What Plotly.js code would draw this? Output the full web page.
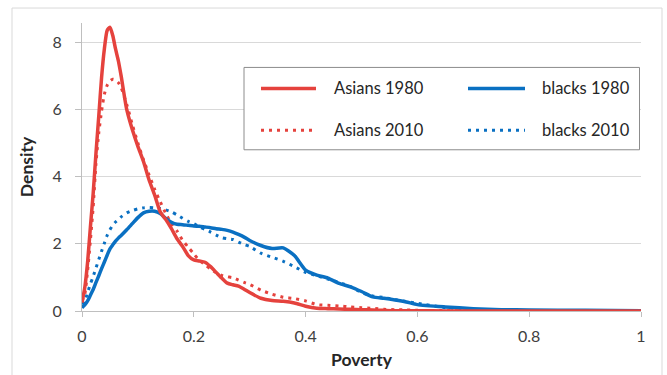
<!DOCTYPE html>
<html><head><meta charset="utf-8">
<script src="https://cdn.plot.ly/plotly-3.0.1.min.js"></script>
<style>html,body{margin:0;padding:0;background:#fff;}#chart{width:667px;height:375px;}</style>
</head><body><div id="chart"></div>
<script>
// ---- data ----
const poverty = [0,0.005,0.01,0.015,0.02,0.025,0.03,0.035,0.04,0.045,0.05,0.055,0.06,0.065,0.07,
  0.08,0.09,0.10,0.11,0.12,0.13,0.14,0.15,0.16,0.17,0.18,0.19,0.20,0.21,0.22,0.23,0.24,0.25,0.26,0.27,0.28,0.29,0.30,
  0.32,0.34,0.36,0.38,0.40,0.42,0.44,0.46,0.48,0.50,0.52,0.54,0.56,0.58,0.60,0.65,0.70,0.75,0.80,0.90,1.00];
const asians1980 = [0.25,0.7,1.45,2.5,3.5,4.7,5.8,6.95,7.8,8.35,8.45,8.2,7.8,7.45,7.0,
  6.0,5.4,4.9,4.45,3.9,3.45,2.95,2.72,2.45,2.15,1.92,1.65,1.52,1.49,1.45,1.32,1.15,0.98,0.83,0.78,0.74,0.65,0.55,
  0.38,0.31,0.29,0.24,0.14,0.08,0.07,0.06,0.05,0.04,0.03,0.02,0.01,0.01,0.01,0,0,0,0,0,0];
const asians2010 = [0.3,0.5,1.2,2.1,3.1,4.4,5.3,5.95,6.45,6.72,6.85,6.9,6.88,6.8,6.65,
  6.15,5.55,5.0,4.5,4.05,3.62,3.25,2.9,2.6,2.38,2.1,1.9,1.7,1.5,1.38,1.25,1.14,1.06,1.02,0.99,0.92,0.85,0.79,
  0.62,0.5,0.41,0.37,0.3,0.19,0.17,0.15,0.12,0.1,0.08,0.05,0.04,0.03,0.02,0.01,0,0,0,0,0];
const blacks1980 = [0.1,0.18,0.3,0.47,0.64,0.85,1.05,1.26,1.46,1.66,1.85,1.97,2.08,2.17,2.25,
  2.42,2.6,2.78,2.92,2.97,2.97,2.9,2.75,2.64,2.58,2.57,2.55,2.53,2.52,2.5,2.48,2.45,2.43,2.4,2.35,2.28,2.2,2.1,
  1.95,1.86,1.88,1.65,1.22,1.07,0.98,0.82,0.72,0.58,0.42,0.38,0.33,0.27,0.19,0.12,0.07,0.04,0.03,0.02,0.01];
const blacks2010 = [0.2,0.3,0.55,0.8,1.03,1.28,1.53,1.78,2.02,2.25,2.42,2.55,2.65,2.72,2.8,
  2.92,2.99,3.04,3.07,3.08,3.07,3.05,3.01,2.95,2.86,2.76,2.67,2.6,2.5,2.43,2.35,2.26,2.18,2.15,2.13,2.05,1.98,1.92,
  1.72,1.6,1.48,1.32,1.15,1.05,0.95,0.85,0.73,0.55,0.45,0.4,0.34,0.28,0.23,0.1,0.04,0.02,0.01,0.01,0];
const seriesNames = ["Asians 1980","blacks 1980","Asians 2010","blacks 2010"];
const xTicks = [0,0.2,0.4,0.6,0.8,1];
const xTickText = ["0","0.2","0.4","0.6","0.8","1"];
const yTicks = [0,2,4,6,8];

// ---- style ----
const RED = "#E5423D", BLUE = "#0A70C2";
const DOT = "3px,5px";
const FONT = "Lato, 'Liberation Sans', sans-serif";
const W = 667, H = 375, L = 82, R = 26, T = 23, B = 63.5;
const pw = W - L - R, ph = H - T - B;
const px = v => (v - L) / pw;          // pixel -> paper x
const py = v => (H - B - v) / ph;      // pixel -> paper y

const styles = [
  {color: RED, width: 3.5, dash: "solid"},
  {color: BLUE, width: 3.5, dash: "solid"},
  {color: RED, width: 3, dash: DOT},
  {color: BLUE, width: 3, dash: DOT}
];
const ys = [asians1980, blacks1980, asians2010, blacks2010];
const traces = [3, 2, 1, 0].map(i => ({
  type: "scatter", mode: "lines", x: poverty, y: ys[i], name: seriesNames[i],
  line: Object.assign({shape: "spline", smoothing: 0.6}, styles[i]),
  showlegend: false, hoverinfo: "x+y+name"
}));

// custom legend (box, samples, labels) and outer chart border
const shapes = [
  {type: "rect", xref: "paper", yref: "paper", x0: px(12), x1: px(662), y0: py(400), y1: py(8),
   line: {color: "#d9d9d9", width: 1}, layer: "below"},
  {type: "rect", xref: "paper", yref: "paper", x0: px(244), x1: px(639.5), y0: py(150), y1: py(67.5),
   line: {color: "#8c8c8c", width: 1}, fillcolor: "#ffffff", layer: "above"}
];
const annotations = [];
const cols = [[261, 316, 332], [468, 525, 540]];
const rows = [88.5, 130.5];
[0, 1, 2, 3].forEach(i => {
  const c = cols[i % 2], r = rows[Math.floor(i / 2)];
  shapes.push({type: "line", xref: "paper", yref: "paper", x0: px(c[0]), x1: px(c[1]), y0: py(r), y1: py(r),
    line: {color: styles[i].color, width: styles[i].width, dash: styles[i].dash}, layer: "above"});
  annotations.push({xref: "paper", yref: "paper", x: px(c[2]), y: py(r), xanchor: "left", yanchor: "middle",
    text: seriesNames[i], showarrow: false, font: {family: FONT, size: 16.5, color: "#262626"}});
});

const layout = {
  width: W, height: H, margin: {l: L, r: R, t: T, b: B},
  paper_bgcolor: "#ffffff", plot_bgcolor: "#ffffff",
  font: {family: FONT, size: 16, color: "#404040"},
  xaxis: {range: [0, 1], tickvals: xTicks, ticktext: xTickText, showgrid: false, zeroline: false,
    showline: true, linecolor: "#bfbfbf", linewidth: 1, ticks: "outside", ticklen: 5, tickcolor: "#bfbfbf",
    tickfont: {family: FONT, size: 16, color: "#404040"}, ticklabelstandoff: 6,
    title: {text: "<b>Poverty</b>", font: {family: FONT, size: 17.5, color: "#262626"}, standoff: 9}},
  yaxis: {range: [0, ph / 33.65], tickvals: yTicks, showgrid: true, gridcolor: "#d9d9d9", gridwidth: 1,
    zeroline: false, showline: true, linecolor: "#bfbfbf", linewidth: 1, ticks: "outside", ticklen: 6,
    tickcolor: "#bfbfbf", tickfont: {family: FONT, size: 16, color: "#404040"}, ticklabelstandoff: 10,
    title: {text: "<b>Density</b>", font: {family: FONT, size: 17.5, color: "#262626"}, standoff: 14}},
  shapes: shapes, annotations: annotations, showlegend: false
};
Plotly.newPlot("chart", traces, layout, {displayModeBar: false, staticPlot: true});
</script></body></html>
